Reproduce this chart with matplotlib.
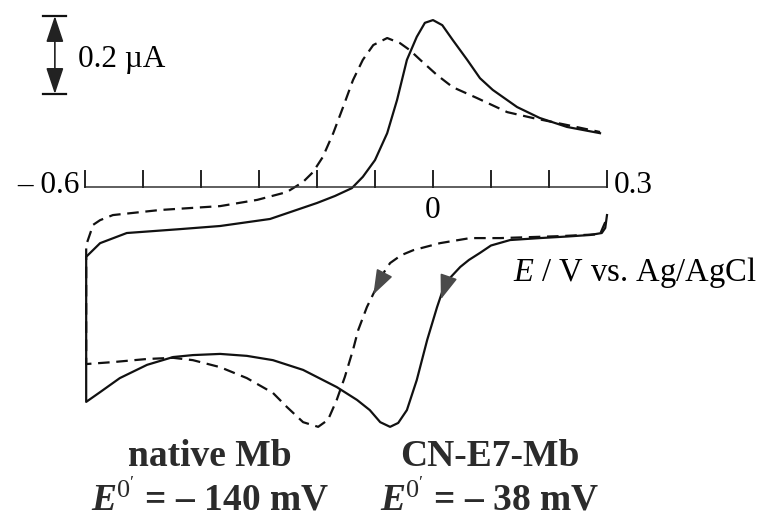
import numpy as np
import matplotlib.pyplot as plt

plt.rcParams['font.family'] = ['Liberation Serif', 'DejaVu Serif']
plt.rcParams['mathtext.fontset'] = 'custom'
plt.rcParams['mathtext.rm'] = 'Liberation Serif'
plt.rcParams['mathtext.it'] = 'Liberation Serif:italic'
plt.rcParams['mathtext.bfit'] = 'Liberation Serif:italic:bold'

# CN-E7-Mb (solid): reverse sweep 0.3 -> -0.6, then forward sweep -0.6 -> 0.3
E_cn_rev = [0.300, 0.297, 0.291, 0.271, 0.231, 0.184, 0.133, 0.100, 0.081, 0.062, 0.047,
            0.030, 0.017, 0.007, -0.010, -0.028, -0.045, -0.060, -0.074, -0.091, -0.109,
            -0.131, -0.166, -0.224, -0.276, -0.321, -0.367, -0.414, -0.448, -0.493,
            -0.540, -0.574, -0.598]
i_cn_rev = [-0.072, -0.105, -0.118, -0.123, -0.127, -0.131, -0.136, -0.150, -0.169, -0.187, -0.205,
            -0.232, -0.264, -0.308, -0.392, -0.495, -0.572, -0.605, -0.615, -0.603, -0.572,
            -0.546, -0.513, -0.469, -0.444, -0.433, -0.428, -0.431, -0.436, -0.456,
            -0.490, -0.526, -0.551]
E_cn_fwd = [-0.598, -0.574, -0.528, -0.436, -0.367, -0.281, -0.200, -0.169, -0.140, -0.121,
            -0.100, -0.079, -0.062, -0.045, -0.028, -0.014, 0.000, 0.016, 0.034, 0.059,
            0.081, 0.103, 0.145, 0.184, 0.231, 0.288]
i_cn_fwd = [-0.179, -0.144, -0.118, -0.108, -0.100, -0.082, -0.041, -0.023, -0.003, 0.026,
            0.069, 0.138, 0.223, 0.326, 0.385, 0.421, 0.428, 0.415, 0.377, 0.326,
            0.279, 0.249, 0.205, 0.177, 0.154, 0.138]

# native Mb (dashed)
E_nat_rev = [0.297, 0.288, 0.219, 0.116, 0.064, 0.012, -0.034, -0.055, -0.074, -0.086,
             -0.097, -0.114, -0.129, -0.138, -0.152, -0.166, -0.181, -0.198, -0.224, -0.252,
             -0.276, -0.321, -0.367, -0.414, -0.448, -0.493, -0.552, -0.598]
i_nat_rev = [-0.090, -0.121, -0.126, -0.131, -0.131, -0.144, -0.162, -0.175, -0.195, -0.222,
             -0.256, -0.308, -0.367, -0.418, -0.487, -0.546, -0.597, -0.615, -0.603, -0.564,
             -0.528, -0.490, -0.462, -0.444, -0.438, -0.441, -0.449, -0.454]
E_nat_fwd = [-0.598, -0.586, -0.574, -0.552, -0.471, -0.367, -0.303, -0.252, -0.224, -0.207,
             -0.190, -0.172, -0.155, -0.138, -0.121, -0.103, -0.079, -0.057, -0.040, -0.022,
             0.007, 0.034, 0.076, 0.128, 0.172, 0.231, 0.288]
i_nat_fwd = [-0.149, -0.097, -0.085, -0.072, -0.059, -0.049, -0.033, -0.013, 0.013, 0.038,
             0.077, 0.138, 0.205, 0.274, 0.326, 0.364, 0.382, 0.369, 0.351, 0.326,
             0.287, 0.256, 0.228, 0.192, 0.177, 0.159, 0.141]

x_ticks = np.arange(-0.6, 0.301, 0.1)
scale_bar = 0.2  # uA

fig = plt.figure(figsize=(7.67, 5.22), dpi=100)
ax = fig.add_axes([0, 0, 1, 1])
ax.set_xlim(-0.7466, 0.5759)
ax.set_ylim(-0.859, 0.4795)
ax.axis('off')

lc = '#111111'
ax.plot(E_cn_rev + E_cn_fwd, i_cn_rev + i_cn_fwd, color=lc, lw=1.6, solid_joinstyle='round')
ax.plot(E_nat_rev + E_nat_fwd, i_nat_rev + i_nat_fwd, color=lc, lw=1.6,
        linestyle=(0, (5.2, 3.0)))

# direction arrows on reverse sweeps
for tip, tail in [((0.012, -0.295), (0.021, -0.256)), ((-0.105, -0.282), (-0.088, -0.233))]:
    ax.annotate('', xy=tip, xytext=tail,
                arrowprops=dict(arrowstyle='-|>,head_length=0.9,head_width=0.32',
                                color='#4a4a4a', lw=1.2, mutation_scale=17))

# potential axis
ax.plot([-0.6, 0.3], [0, 0], color='#333333', lw=1.1)
for t in x_ticks:
    ax.plot([t, t], [0, 0.041], color='#222222', lw=1.4)
fs = 22.5
ax.text(-0.61, 0.003, '– 0.6', ha='right', va='center', fontsize=fs)
ax.text(0.0, -0.06, '0', ha='center', va='center', fontsize=fs)
ax.text(0.312, 0.003, '0.3', ha='left', va='center', fontsize=fs)
ax.text(0.138, -0.218, r'$\mathit{E}$ / V vs. Ag/AgCl', ha='left', va='center', fontsize=23.5)

# current scale bar
xb = -0.652
ytop = 0.4385
ax.annotate('', xy=(xb, ytop), xytext=(xb, ytop - scale_bar),
            arrowprops=dict(arrowstyle='<|-|>,head_length=0.9,head_width=0.3',
                            color='#222222', lw=1.2, mutation_scale=18,
                            shrinkA=0, shrinkB=0))
ax.plot([xb - 0.02, xb + 0.02], [ytop, ytop], color='#111111', lw=1.6)
ax.plot([xb - 0.02, xb + 0.02], [ytop - scale_bar, ytop - scale_bar], color='#111111', lw=1.6)
ax.text(-0.612, 0.326, '0.2 µA', ha='left', va='center', fontsize=fs)

# labels
tc = '#2b2b2b'
ax.text(-0.384, -0.692, 'native Mb', ha='center', va='center', fontsize=27,
        fontweight='bold', color=tc)
ax.text(0.098, -0.692, 'CN-E7-Mb', ha='center', va='center', fontsize=27,
        fontweight='bold', color=tc)
ax.text(-0.384, -0.800, r"$\mathbfit{E}^{0'}$ = – 140 mV", ha='center', va='center',
        fontsize=27, fontweight='bold', color=tc)
ax.text(0.098, -0.800, r"$\mathbfit{E}^{0'}$ = – 38 mV", ha='center', va='center',
        fontsize=27, fontweight='bold', color=tc)

fig.savefig('out.png', dpi=100)
